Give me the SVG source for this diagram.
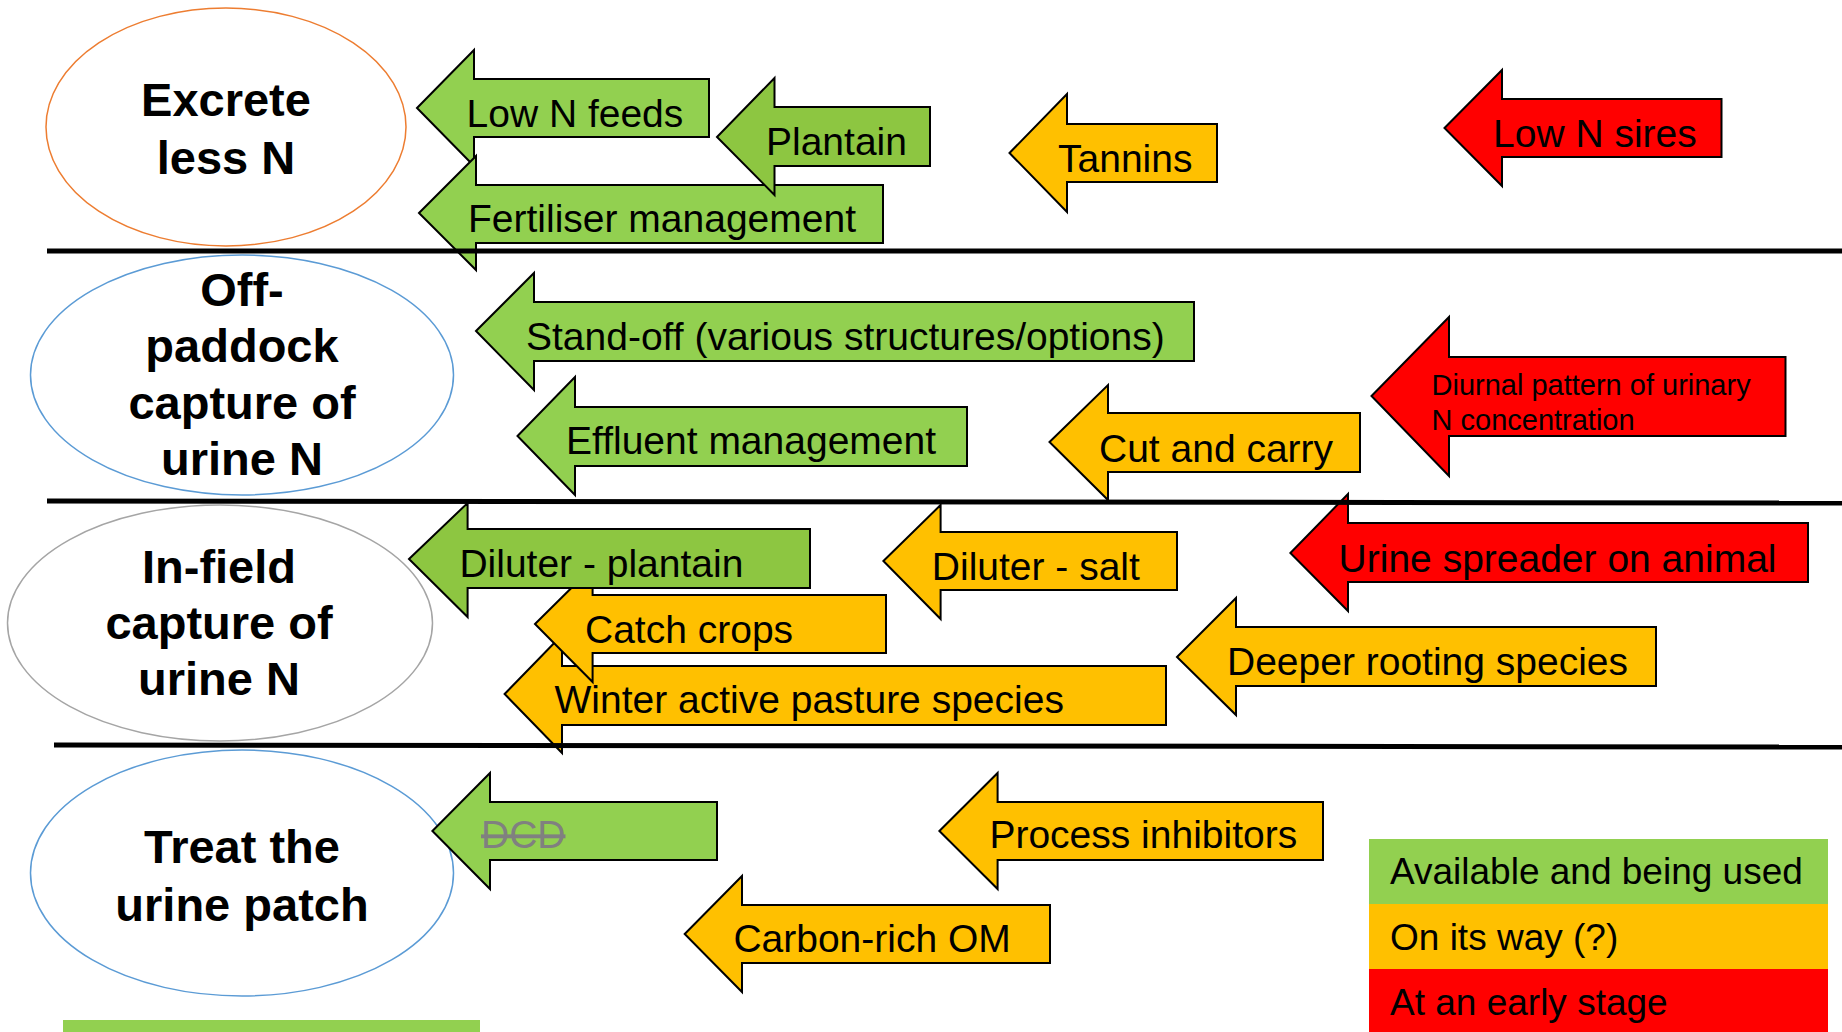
<svg xmlns="http://www.w3.org/2000/svg" width="1842" height="1032" viewBox="0 0 1842 1032">
<style>
.bg{fill:#fff}
.arr{stroke:#000;stroke-width:2;stroke-linejoin:miter}
.g{fill:#92D050}
.gd{fill:#8DC641}
.o{fill:#FFC000}
.r{fill:#FF0000}
.lbl{font-family:"Liberation Sans",Arial,sans-serif;font-size:39px;fill:#000}
.small{font-size:29px}
.leg{font-size:37px}
.cat{font-family:"Liberation Sans",Arial,sans-serif;font-size:47px;font-weight:bold;fill:#000;text-anchor:middle}
.ell{fill:#fff;stroke-width:1.5}
.div{stroke:#000;stroke-width:5}
.dcd{fill:#808080;text-decoration:line-through}
</style>
<rect class="bg" x="0" y="0" width="1842" height="1032"/>

<g id="cat-excrete">
<ellipse class="ell" cx="226" cy="127" rx="180" ry="119" stroke="#ED7D31"/>
<text class="cat" x="226" y="116">Excrete</text>
<text class="cat" x="226" y="174">less N</text>
</g>
<g id="cat-offpaddock">
<ellipse class="ell" cx="242" cy="375" rx="211.5" ry="120" stroke="#5B9BD5"/>
<text class="cat" x="242" y="306">Off-</text>
<text class="cat" x="242" y="362">paddock</text>
<text class="cat" x="242" y="419">capture of</text>
<text class="cat" x="242" y="475">urine N</text>
</g>
<g id="cat-infield">
<ellipse class="ell" cx="220" cy="623" rx="212.5" ry="118" stroke="#A5A5A5"/>
<text class="cat" x="219" y="583">In-field</text>
<text class="cat" x="219" y="639">capture of</text>
<text class="cat" x="219" y="695">urine N</text>
</g>
<g id="cat-treat">
<ellipse class="ell" cx="242" cy="873" rx="211.5" ry="123" stroke="#5B9BD5"/>
<text class="cat" x="242" y="863">Treat the</text>
<text class="cat" x="242" y="921">urine patch</text>
</g>

<g id="opt-lown-feeds">
<path class="arr g" d="M417,108 L474,50 L474,79 L709,79 L709,137 L474,137 L474,166 Z"/>
<text class="lbl" x="466.5" y="127">Low N feeds</text>
</g>
<g id="opt-fertiliser">
<path class="arr g" d="M419,213 L476,156 L476,185 L883,185 L883,243 L476,243 L476,270 Z"/>
<text class="lbl" x="468" y="232">Fertiliser management</text>
</g>
<g id="opt-plantain">
<path class="arr gd" d="M717,137 L774.5,78 L774.5,107 L930,107 L930,166 L774.5,166 L774.5,195 Z"/>
<text class="lbl" x="766" y="155">Plantain</text>
</g>
<g id="opt-tannins">
<path class="arr o" d="M1009.5,153 L1067,94 L1067,124 L1217,124 L1217,182 L1067,182 L1067,212 Z"/>
<text class="lbl" x="1058" y="172">Tannins</text>
</g>
<g id="opt-lown-sires">
<path class="arr r" d="M1444.5,128 L1502,70 L1502,99 L1721.5,99 L1721.5,157 L1502,157 L1502,186 Z"/>
<text class="lbl" x="1493" y="147">Low N sires</text>
</g>

<g id="opt-standoff">
<path class="arr g" d="M476,331 L534,273 L534,302 L1194,302 L1194,361 L534,361 L534,390 Z"/>
<text class="lbl" x="526" y="350">Stand-off (various structures/options)</text>
</g>
<g id="opt-effluent">
<path class="arr g" d="M517.5,436 L575,377 L575,407 L967,407 L967,466 L575,466 L575,495 Z"/>
<text class="lbl" x="566" y="454">Effluent management</text>
</g>
<g id="opt-cutcarry">
<path class="arr o" d="M1049.5,442 L1108,385 L1108,413 L1360,413 L1360,472 L1108,472 L1108,500 Z"/>
<text class="lbl" x="1099" y="462">Cut and carry</text>
</g>
<g id="opt-diurnal">
<path class="arr r" d="M1371.5,396 L1449,317 L1449,357 L1785.5,357 L1785.5,436 L1449,436 L1449,476 Z"/>
<text class="lbl small" x="1431.5" y="395">Diurnal pattern of urinary</text>
<text class="lbl small" x="1431.5" y="430">N concentration</text>
</g>

<g id="opt-winter">
<path class="arr o" d="M504.6,694 L562,635 L562,666 L1166,666 L1166,725 L562,725 L562,753 Z"/>
<text class="lbl" x="554.5" y="713">Winter active pasture species</text>
</g>
<g id="opt-catch">
<path class="arr o" d="M535,624 L592.6,567 L592.6,595 L886,595 L886,653 L592.6,653 L592.6,682 Z"/>
<text class="lbl" x="585" y="643">Catch crops</text>
</g>
<g id="opt-diluter-plantain">
<path class="arr gd" d="M409,559 L467.6,503 L467.6,529 L810,529 L810,588 L467.6,588 L467.6,617 Z"/>
<text class="lbl" x="459.4" y="577">Diluter - plantain</text>
</g>
<g id="opt-diluter-salt">
<path class="arr o" d="M883.4,561 L940.6,505 L940.6,532 L1177,532 L1177,590 L940.6,590 L940.6,619 Z"/>
<text class="lbl" x="931.8" y="580">Diluter - salt</text>
</g>
<g id="opt-spreader">
<path class="arr r" d="M1290.4,553 L1348,494 L1348,523 L1808,523 L1808,582 L1348,582 L1348,611 Z"/>
<text class="lbl" x="1338.6" y="572">Urine spreader on animal</text>
</g>
<g id="opt-deeper">
<path class="arr o" d="M1177,657 L1236,598 L1236,627 L1656,627 L1656,686 L1236,686 L1236,715 Z"/>
<text class="lbl" x="1227" y="675">Deeper rooting species</text>
</g>

<g id="opt-dcd">
<path class="arr g" d="M432.4,831 L490,773 L490,802 L717,802 L717,860 L490,860 L490,889 Z"/>
<text class="lbl dcd" x="481" y="848">DCD</text>
</g>
<g id="opt-process">
<path class="arr o" d="M939.4,831 L997.6,773 L997.6,802 L1323,802 L1323,860 L997.6,860 L997.6,889 Z"/>
<text class="lbl" x="989.4" y="848">Process inhibitors</text>
</g>
<g id="opt-carbon">
<path class="arr o" d="M684.7,934 L742,876 L742,905 L1050,905 L1050,963 L742,963 L742,992 Z"/>
<text class="lbl" x="733.4" y="952">Carbon-rich OM</text>
</g>

<g id="connectors">
<line class="div" x1="47" y1="251" x2="1842" y2="251"/>
<line class="div" x1="47" y1="501" x2="1842" y2="503"/>
<line class="div" x1="54" y1="745" x2="1842" y2="747"/>
</g>

<g id="legend">
<rect x="1369" y="839" width="459" height="65" fill="#92D050"/>
<rect x="1369" y="904" width="459" height="65" fill="#FFC000"/>
<rect x="1369" y="969" width="459" height="63" fill="#FF0000"/>
<text class="lbl leg" x="1390" y="884">Available and being used</text>
<text class="lbl leg" x="1390" y="950">On its way (?)</text>
<text class="lbl leg" x="1390" y="1015">At an early stage</text>
</g>
<rect id="bottom-bar" x="63" y="1020" width="417" height="12" fill="#92D050"/>
</svg>
